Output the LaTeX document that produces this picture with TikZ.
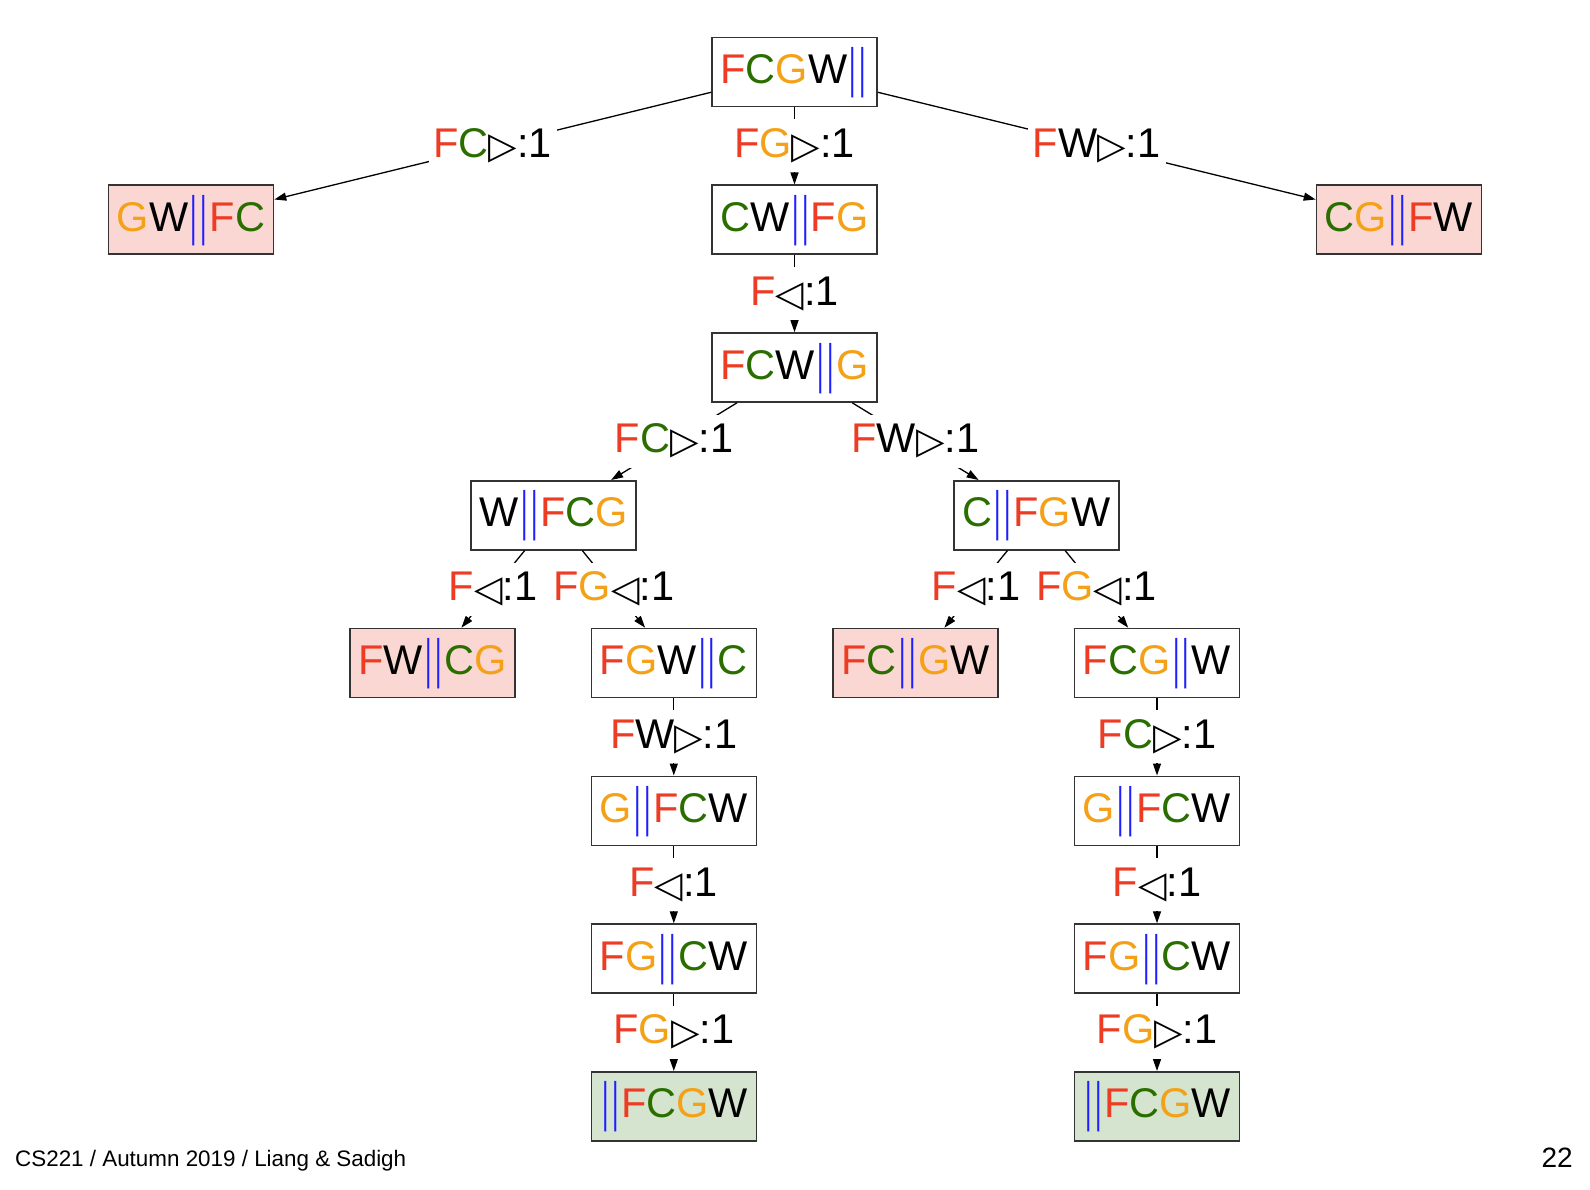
\documentclass[tikz,border=0pt]{standalone}
\usepackage{fontspec}
\setmainfont{Liberation Sans}
\newfontfamily\symfont{DejaVu Sans}
\usepackage{graphicx}
\usetikzlibrary{arrows.meta}

\definecolor{cF}{HTML}{EE3B24}
\definecolor{cC}{HTML}{2B6E00}
\definecolor{cG}{HTML}{F4A118}
\definecolor{cBar}{HTML}{1F1FFF}
\definecolor{dead}{HTML}{FAD7D3}
\definecolor{goal}{HTML}{D5E4CF}
\definecolor{bord}{HTML}{333333}

\newcommand{\chF}{\textcolor{cF}{F}}
\newcommand{\chC}{\textcolor{cC}{C}}
\newcommand{\chG}{\textcolor{cG}{G}}
\newcommand{\chW}{\textcolor{black}{W}}
\newcommand{\onebar}{\raisebox{-3pt}{\scalebox{0.6}[1.3]{|}}}
\newcommand{\bars}{\textcolor{cBar}{\hspace{2.5pt}\onebar\hspace{3.5pt}\onebar\hspace{2.5pt}}}
\newcommand{\rtri}{{\symfont\fontsize{37pt}{37pt}\selectfont\raisebox{-1pt}{▷}}}
\newcommand{\ltri}{{\symfont\fontsize{37pt}{37pt}\selectfont\raisebox{-1pt}{◁}}}
\newcommand{\bigfont}{\fontsize{41.5pt}{41.5pt}\selectfont}

\begin{document}
\begin{tikzpicture}[x=1pt,y=-1pt,
  state/.style={draw=bord, line width=1.6pt, fill=white, minimum width=165pt, minimum height=69pt,
    inner sep=0pt, text height=31pt, text depth=8pt, font=\bigfont},
  deadstate/.style={state, fill=dead},
  goalstate/.style={state, fill=goal},
  lbl/.style={fill=white, inner sep=5pt, text height=33pt, text depth=10pt, font=\bigfont},
  edge/.style={line width=1.3pt, -{Triangle[length=12pt,width=8pt]}}]
\path[use as bounding box] (0,0) rectangle (1590,1190);

% nodes
\node[state] (root) at (794.5,72) {\chF\chC\chG\chW\bars};
\node[deadstate] (gw) at (191,219.8) {\chG\chW\bars\chF\chC};
\node[state] (cw) at (794.5,219.8) {\chC\chW\bars\chF\chG};
\node[deadstate] (cg) at (1399,219.8) {\chC\chG\bars\chF\chW};
\node[state] (fcw) at (794.5,367.5) {\chF\chC\chW\bars\chG};
\node[state] (wfcg) at (553.6,515.3) {\chW\bars\chF\chC\chG};
\node[state] (cfgw) at (1036.3,515.3) {\chC\bars\chF\chG\chW};
\node[deadstate] (fwcg) at (432.5,663) {\chF\chW\bars\chC\chG};
\node[state] (fgwc) at (673.8,663) {\chF\chG\chW\bars\chC};
\node[deadstate] (fcgw) at (915.6,663) {\chF\chC\bars\chG\chW};
\node[state] (fcgwr) at (1157,663) {\chF\chC\chG\bars\chW};
\node[state] (gfcwl) at (673.8,810.8) {\chG\bars\chF\chC\chW};
\node[state] (fgcwl) at (673.8,958.6) {\chF\chG\bars\chC\chW};
\node[goalstate] (goall) at (673.8,1106.3) {\bars\chF\chC\chG\chW};
\node[state] (gfcwr) at (1157,810.8) {\chG\bars\chF\chC\chW};
\node[state] (fgcwr) at (1157,958.6) {\chF\chG\bars\chC\chW};
\node[goalstate] (goalr) at (1157,1106.3) {\bars\chF\chC\chG\chW};

% edges
\draw[edge] (root) -- node[lbl] {\chF\chC\rtri:1} (gw);
\draw[edge] (root) -- node[lbl] {\chF\chG\rtri:1} (cw);
\draw[edge] (root) -- node[lbl] {\chF\chW\rtri:1} (cg);
\draw[edge] (cw) -- node[lbl] {\chF\ltri:1} (fcw);
\draw[edge] (fcw) -- node[lbl] {\chF\chC\rtri:1} (wfcg);
\draw[edge] (fcw) -- node[lbl] {\chF\chW\rtri:1} (cfgw);
\draw[edge] (wfcg) -- node[lbl] {\chF\ltri:1} (fwcg);
\draw[edge] (wfcg) -- node[lbl] {\chF\chG\ltri:1} (fgwc);
\draw[edge] (cfgw) -- node[lbl] {\chF\ltri:1} (fcgw);
\draw[edge] (cfgw) -- node[lbl] {\chF\chG\ltri:1} (fcgwr);
\draw[edge] (fgwc) -- node[lbl] {\chF\chW\rtri:1} (gfcwl);
\draw[edge] (gfcwl) -- node[lbl] {\chF\ltri:1} (fgcwl);
\draw[edge] (fgcwl) -- node[lbl] {\chF\chG\rtri:1} (goall);
\draw[edge] (fcgwr) -- node[lbl] {\chF\chC\rtri:1} (gfcwr);
\draw[edge] (gfcwr) -- node[lbl] {\chF\ltri:1} (fgcwr);
\draw[edge] (fgcwr) -- node[lbl] {\chF\chG\rtri:1} (goalr);

% footer
\node[anchor=base west, inner sep=0pt, font=\fontsize{22.4pt}{22.4pt}\selectfont] (foot) at (15,1166) {CS221 / Autumn 2019 / Liang \& Sadigh};
\node[anchor=base east, inner sep=0pt, font=\fontsize{28pt}{28pt}\selectfont] (page) at (1573,1167) {22};
\end{tikzpicture}
\end{document}
